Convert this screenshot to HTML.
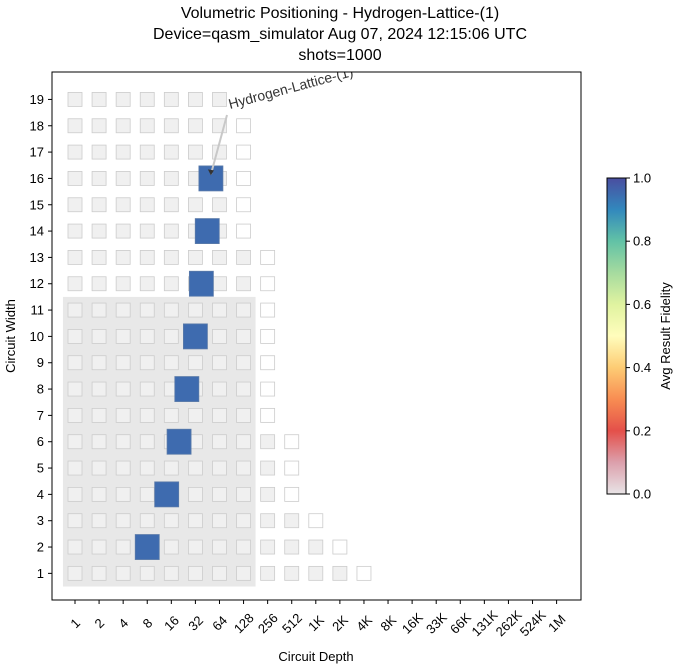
<!DOCTYPE html>
<html><head><meta charset="utf-8"><style>
body{margin:0;background:#fff;}
svg{display:block;font-family:"Liberation Sans","DejaVu Sans",sans-serif;}
</style></head><body>
<svg id="chart" width="680" height="668" viewBox="0 0 680 668">
<defs>
<linearGradient id="cmap" x1="0" y1="1" x2="0" y2="0">
<stop offset="0" stop-color="#e8e4e6"/>
<stop offset="0.1" stop-color="#dca0ac"/>
<stop offset="0.2" stop-color="#e4504a"/>
<stop offset="0.3" stop-color="#f88d52"/>
<stop offset="0.4" stop-color="#fdcc74"/>
<stop offset="0.5" stop-color="#fffdbc"/>
<stop offset="0.6" stop-color="#e0f3a0"/>
<stop offset="0.7" stop-color="#a6db9f"/>
<stop offset="0.8" stop-color="#62c2a6"/>
<stop offset="0.9" stop-color="#3288bd"/>
<stop offset="1" stop-color="#4a4ea0"/>
</linearGradient>
<clipPath id="plotclip"><rect x="52" y="72" width="529" height="528"/></clipPath>
</defs>
<g font-size="16" text-anchor="middle" fill="#000">
<text x="340" y="18">Volumetric Positioning - Hydrogen-Lattice-(1)</text>
<text x="340" y="39">Device=qasm_simulator  Aug 07, 2024 12:15:06 UTC</text>
<text x="340" y="60">shots=1000</text>
</g>
<g id="plot" clip-path="url(#plotclip)"></g>
<rect x="52" y="72" width="529" height="528" fill="none" stroke="#000" stroke-width="1"/>
<g id="xticks"></g>
<g id="yticks"></g>
<text x="316" y="661" font-size="13" text-anchor="middle">Circuit Depth</text>
<text x="0" y="0" font-size="13" text-anchor="middle" transform="translate(15,336) rotate(-90)">Circuit Width</text>
<g>
<rect x="607" y="178" width="19" height="316" fill="url(#cmap)" stroke="#000" stroke-width="1"/>
<g id="cbticks"></g>
<text x="0" y="0" font-size="13" text-anchor="middle" transform="translate(670,336) rotate(-90)">Avg Result Fidelity</text>
</g>
</svg>
<script>
const xTickLabels = ["1","2","4","8","16","32","64","128","256","512","1K","2K","4K","8K","16K","33K","66K","131K","262K","524K","1M"];
const yTickLabels = [1,2,3,4,5,6,7,8,9,10,11,12,13,14,15,16,17,18,19];
const gridWidths = [1,2,3,4,5,6,7,8,9,10,11,12,13,14,15,16,17,18,19];
const gridMaxGray = [11,10,9,8,8,8,7,7,7,7,7,7,7,6,6,6,6,6,6];
const gridWhiteCol = [12,11,10,9,9,9,8,8,8,8,8,8,8,7,7,7,7,7,-1];
const circuitWidths = [2,4,6,8,10,12,14,16];
const circuitDepths = [8,14,20,25,32,38,45,50];
const fidelities = [0.95,0.95,0.95,0.95,0.95,0.95,0.95,0.95];
const cbTicks = [0,0.2,0.4,0.6,0.8,1.0];
const qvWidth = 11, qvDepthIdx = 7;

const NS="http://www.w3.org/2000/svg";
const X0=75, DX=24.08, Y0=599.7, DY=26.33;
const xs=i=>X0+DX*i;
const ys=w=>Y0-DY*w;
function mk(tag,attrs,parent){const e=document.createElementNS(NS,tag);for(const k in attrs)e.setAttribute(k,attrs[k]);parent.appendChild(e);return e;}
function cmap(v){
  const stops=[[0,[232,228,230]],[0.1,[220,160,172]],[0.2,[228,80,74]],[0.3,[248,141,82]],[0.4,[253,204,116]],[0.5,[255,253,188]],[0.6,[224,243,160]],[0.7,[166,219,159]],[0.8,[98,194,166]],[0.9,[50,136,189]],[1,[74,78,160]]];
  for(let i=1;i<stops.length;i++){if(v<=stops[i][0]){const a=stops[i-1],b=stops[i],t=(v-a[0])/(b[0]-a[0]);const c=a[1].map((x,j)=>Math.round(x+(b[1][j]-x)*t));return `rgb(${c})`;}}
  return "rgb(74,78,160)";
}
const plot=document.getElementById('plot');
const bg=mk('rect',{x:xs(-0.5),y:ys(qvWidth+0.5),width:xs(qvDepthIdx+0.5)-xs(-0.5),height:ys(0.5)-ys(qvWidth+0.5),fill:'#e8e8e8'},plot);


gridWidths.forEach((w,r)=>{
  for(let c=0;c<=gridMaxGray[r];c++){
    const s=mk('rect',{x:xs(c)-7,y:ys(w)-7,width:14,height:14,fill:'#f0f0f0',stroke:'#cccccc','stroke-width':0.8},plot);
    
    
  }
  if(gridWhiteCol[r]>=0){
    const s=mk('rect',{x:xs(gridWhiteCol[r])-7,y:ys(w)-7,width:14,height:14,fill:'#ffffff',stroke:'#cccccc','stroke-width':0.8},plot);
    
    
  }
});
circuitWidths.forEach((w,i)=>{
  const cx=xs(Math.log2(circuitDepths[i])), cy=ys(w);
  const s=mk('rect',{x:cx-12,y:cy-12.5,width:24,height:25,fill:cmap(fidelities[i]),stroke:'#5a7aa8','stroke-width':0.8},plot);
  
  
});
const tipX=xs(Math.log2(circuitDepths[7])), tipY=ys(circuitWidths[7]);
const ann=mk('g',{},plot);


mk('line',{x1:227,y1:115,x2:tipX,y2:tipY-4,stroke:'#c8c8c8','stroke-width':2},ann);
mk('polygon',{points:`${tipX},${tipY-3} ${tipX-3},${tipY-9} ${tipX+3},${tipY-8}`,fill:'#333'},ann);
const at=mk('text',{x:0,y:0,'font-size':14,fill:'#333',transform:'translate(230,109) rotate(-15)'},ann);
at.textContent='Hydrogen-Lattice-(1)';

const xt=document.getElementById('xticks');
xTickLabels.forEach((l,i)=>{
  const x=xs(i);
  const t=mk('line',{x1:x,y1:600,x2:x,y2:604,stroke:'#000'},xt);
  
  
  const tx=mk('text',{x:0,y:0,'font-size':13,'text-anchor':'middle',transform:`translate(${x+1},${624}) rotate(-45)`,'dominant-baseline':'middle'},xt);
  
  
  tx.textContent=l;
});
const yt=document.getElementById('yticks');
yTickLabels.forEach(w=>{
  const y=ys(w);
  const t=mk('line',{x1:48,y1:y,x2:52,y2:y,stroke:'#000'},yt);
  
  
  const tx=mk('text',{x:44,y:y+4.5,'font-size':13,'text-anchor':'end'},yt);
  
  
  tx.textContent=w;
});
const cb=document.getElementById('cbticks');
cbTicks.forEach(v=>{
  const y=494-316*v;
  mk('line',{x1:626,y1:y,x2:630,y2:y,stroke:'#000'},cb);
  const tx=mk('text',{x:633,y:y+4.5,'font-size':13},cb);
  
  
  tx.textContent=v.toFixed(1);
});
</script>
</body></html>
